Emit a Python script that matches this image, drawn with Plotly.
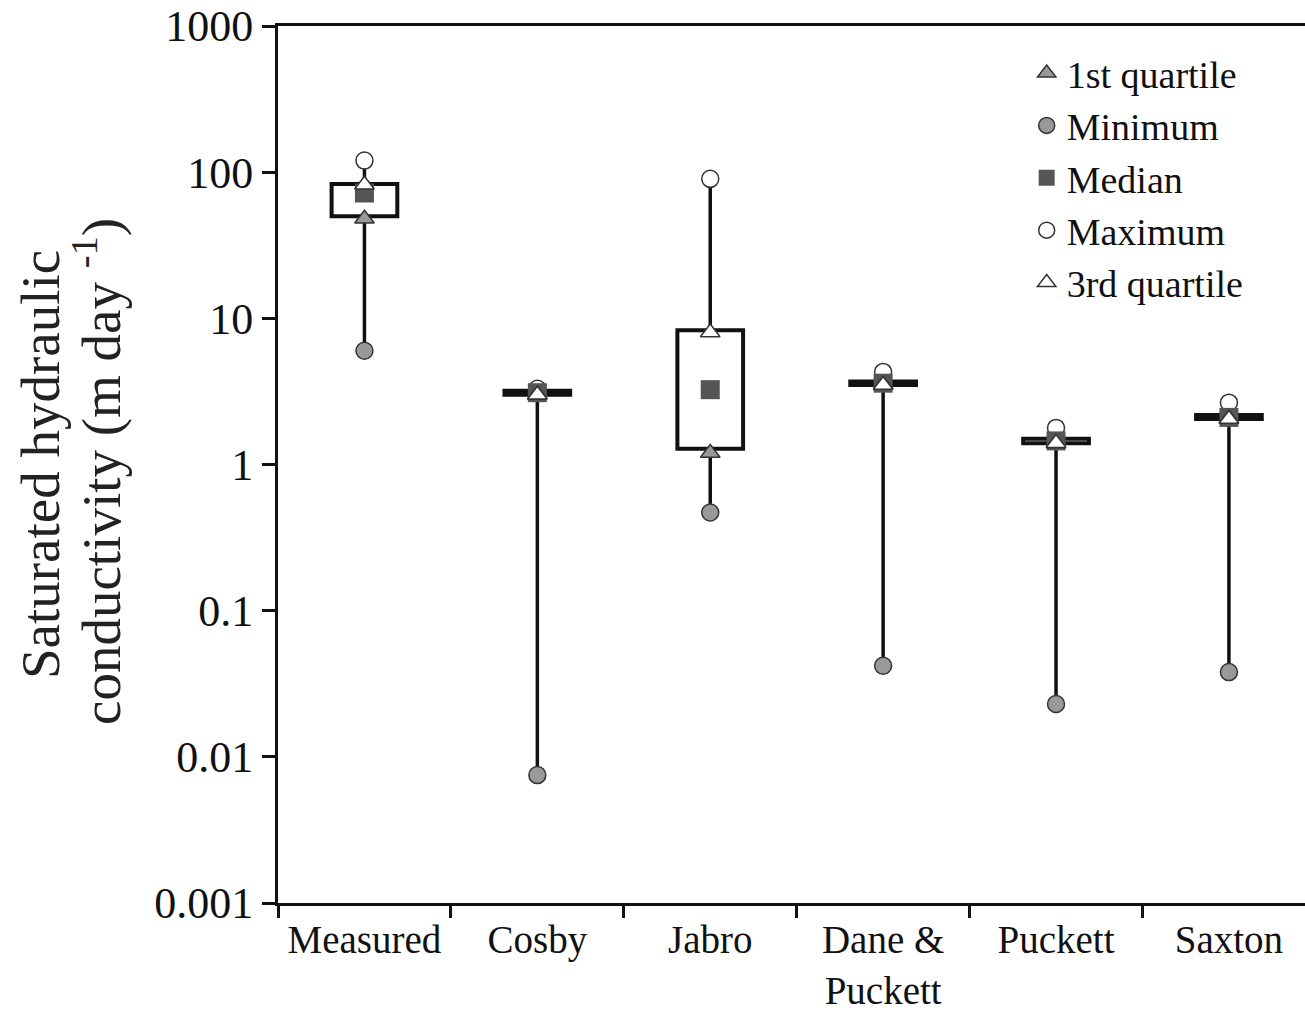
import plotly.graph_objects as go

categories = ["Measured", "Cosby", "Jabro", "Dane &<br>Puckett", "Puckett", "Saxton"]
minimum = [6.0, 0.0075, 0.47, 0.042, 0.023, 0.038]
q1 = [50, 3.0, 1.28, 3.5, 1.4, 2.05]
median = [72, 3.1, 3.25, 3.6, 1.45, 2.1]
q3 = [83, 3.2, 8.3, 3.7, 1.5, 2.18]
maximum = [120, 3.3, 90, 4.3, 1.78, 2.65]
q1_marker = [48, 3.0, 1.2, 3.5, 1.4, 2.05]
q3_marker = [82, 3.0, 8.0, 3.5, 1.4, 2.05]
ytick_vals = [0.001, 0.01, 0.1, 1, 10, 100, 1000]
ytick_text = ["0.001", "0.01", "0.1", "1", "10", "100", "1000"]

FONT = "Liberation Serif"
xs = list(range(len(categories)))

fig = go.Figure()

# whiskers: min -> q1 and q3 -> max
wx, wy = [], []
for i in xs:
    wx += [i, i, None, i, i, None]
    wy += [minimum[i], q1[i], None, q3[i], maximum[i], None]
fig.add_trace(go.Scatter(x=wx, y=wy, mode="lines", line=dict(color="#111", width=3.5),
                         showlegend=False, hoverinfo="skip"))

# boxes
fig.add_trace(go.Bar(x=xs, base=q1, y=[b - a for a, b in zip(q1, q3)], width=0.38,
                     marker=dict(color="white", line=dict(color="#111", width=4)),
                     showlegend=False, hoverinfo="skip"))

fig.add_trace(go.Scatter(x=xs, y=minimum, mode="markers", name="Minimum", legendrank=2,
                         marker=dict(symbol="circle", size=17, color="#999999",
                                     line=dict(color="#333", width=1.5))))
fig.add_trace(go.Scatter(x=xs, y=maximum, mode="markers", name="Maximum", legendrank=4,
                         marker=dict(symbol="circle", size=17, color="white",
                                     line=dict(color="#333", width=1.5))))
fig.add_trace(go.Scatter(x=xs, y=median, mode="markers", name="Median", legendrank=3,
                         marker=dict(symbol="square", size=19, color="#555555",
                                     line=dict(color="#555", width=0))))
fig.add_trace(go.Scatter(x=xs, y=q1_marker, mode="markers", name="1st quartile", legendrank=1,
                         marker=dict(symbol="triangle-up", size=17, color="#999999",
                                     line=dict(color="#333", width=1.5))))
fig.add_trace(go.Scatter(x=xs, y=q3_marker, mode="markers", name="3rd quartile", legendrank=5,
                         marker=dict(symbol="triangle-up", size=17, color="white",
                                     line=dict(color="#333", width=1.5))))

title_font = dict(family=FONT, size=55, color="#222")
fig.update_layout(
    width=1305, height=1014,
    margin=dict(l=278, r=0, t=26, b=111, autoexpand=False),
    paper_bgcolor="white", plot_bgcolor="white",
    font=dict(family=FONT, size=40, color="#111"),
    barmode="overlay",
    legend=dict(x=0.729, y=0.982, xanchor="left", yanchor="top",
                font=dict(family=FONT, size=38, color="#111"),
                bgcolor="rgba(0,0,0,0)", tracegroupgap=0),
    annotations=[
        dict(text="Saturated hydraulic", xref="paper", yref="paper",
             x=(40 - 278) / 1027, y=(903 - 465) / 877,
             xanchor="center", yanchor="middle", textangle=-90, showarrow=False,
             font=title_font),
        dict(text="conductivity (m day <sup>-1</sup>)", xref="paper", yref="paper",
             x=(97 - 278) / 1027, y=(903 - 472) / 877,
             xanchor="center", yanchor="middle", textangle=-90, showarrow=False,
             font=title_font),
    ],
)
fig.update_xaxes(
    range=[-0.5, 5.44], tickmode="array", tickvals=xs, ticktext=categories,
    ticks="", showgrid=False, zeroline=False, automargin=False,
    showline=True, linecolor="#111", linewidth=3, mirror=True,
    tickfont=dict(family=FONT, size=39, color="#111"),
    minor=dict(tickmode="array", tickvals=[-0.5, 0.5, 1.5, 2.5, 3.5, 4.5],
               ticks="outside", ticklen=12, tickwidth=3, tickcolor="#111", showgrid=False),
)
fig.update_yaxes(
    type="log", range=[-3, 3], tickmode="array", tickvals=ytick_vals, ticktext=ytick_text,
    ticks="outside", ticklen=13, tickwidth=3, tickcolor="#111", automargin=False,
    showgrid=False, zeroline=False, showline=True, linecolor="#111", linewidth=3,
    tickfont=dict(family=FONT, size=44, color="#111"),
)

fig.write_html("out.html")
